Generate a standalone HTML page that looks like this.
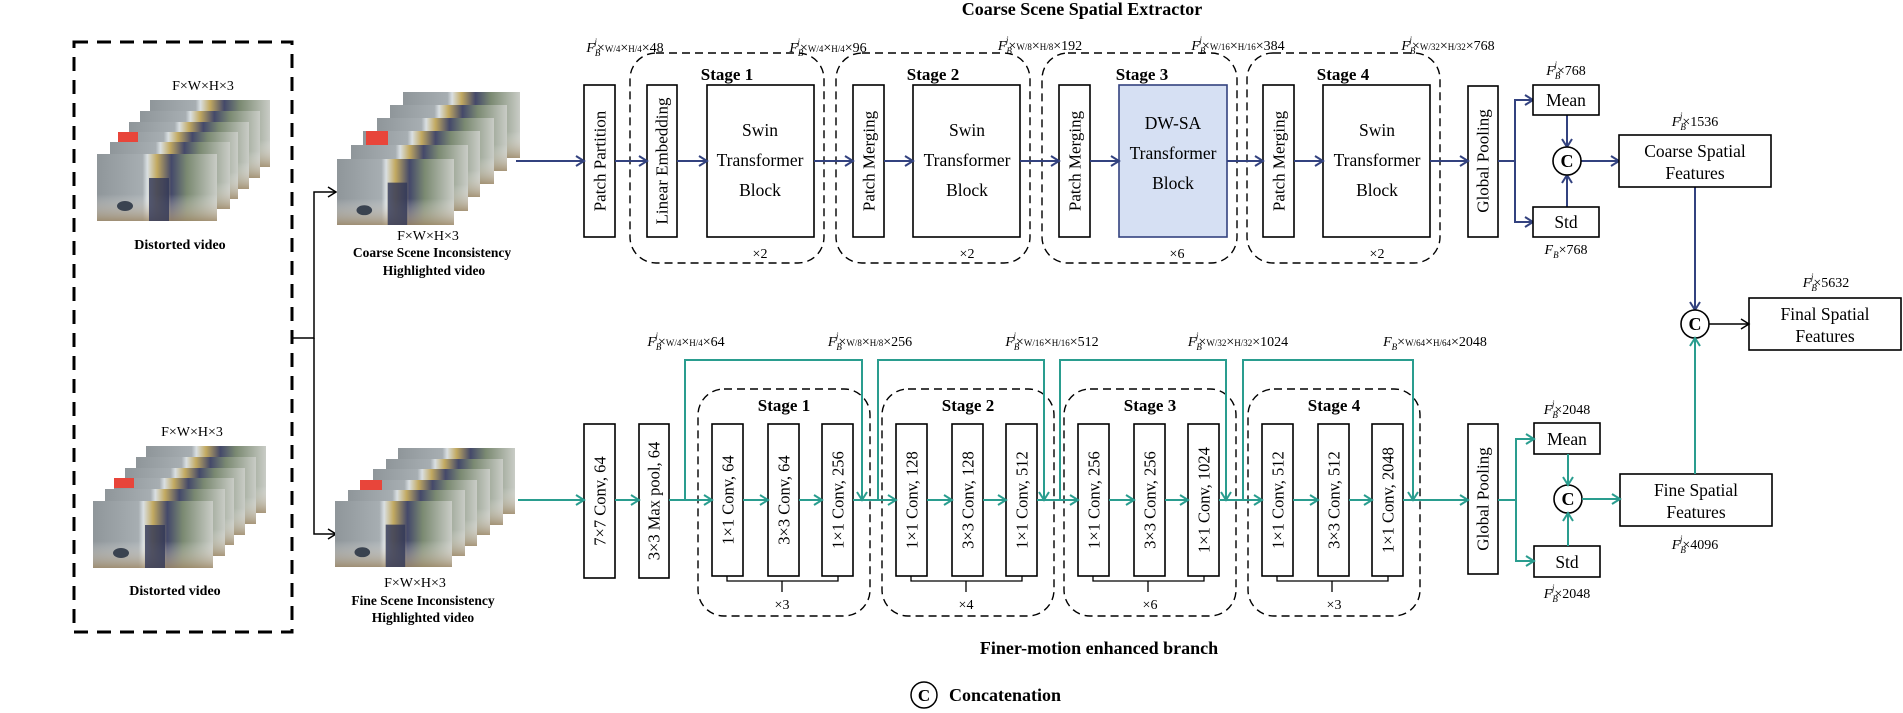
<!DOCTYPE html>
<html><head><meta charset="utf-8"><style>
html,body{margin:0;padding:0;background:#fff}
svg{display:block;font-family:"Liberation Serif","DejaVu Serif",serif}
svg text{font-family:"Liberation Serif","DejaVu Serif",serif !important;fill:#000}
.b{stroke:#000;stroke-width:1.6;fill:#fff}
.d{stroke:#000;stroke-width:1.4;fill:none;stroke-dasharray:8,5}
.n{stroke:#33427f;stroke-width:2;fill:none}
.t{stroke:#2a9d8f;stroke-width:2;fill:none}
.k{stroke:#000;stroke-width:1.5;fill:none}
.vt{font-size:17px}
.bt{font-size:17.5px}
.st{font-size:17px;font-weight:bold}
.dim{font-size:14px}
.sm{font-size:9px}
</style></head><body>
<svg width="1903" height="713" viewBox="0 0 1903 713" xmlns="http://www.w3.org/2000/svg" font-family="Liberation Serif, serif">
<defs>
<marker id="an" markerUnits="userSpaceOnUse" markerWidth="12" markerHeight="12" refX="9" refY="6" orient="auto"><path d="M1,1 L9,6 L1,11" fill="none" stroke="#33427f" stroke-width="2"/></marker>
<marker id="at" markerUnits="userSpaceOnUse" markerWidth="12" markerHeight="12" refX="9" refY="6" orient="auto"><path d="M1,1 L9,6 L1,11" fill="none" stroke="#2a9d8f" stroke-width="2"/></marker>
<marker id="ak" markerUnits="userSpaceOnUse" markerWidth="12" markerHeight="12" refX="9" refY="6" orient="auto"><path d="M1,1 L9,6 L1,11" fill="none" stroke="#000" stroke-width="1.5"/></marker>
<linearGradient id="g1" x1="0" y1="0" x2="1" y2="0">
<stop offset="0" stop-color="#8f969a"/><stop offset="0.38" stop-color="#a7aeb2"/><stop offset="0.42" stop-color="#d9dfe2"/><stop offset="0.5" stop-color="#c2a960"/><stop offset="0.62" stop-color="#44496a"/><stop offset="0.75" stop-color="#7b8a72"/><stop offset="1" stop-color="#c9ccc6"/>
</linearGradient>
<linearGradient id="g2" x1="0" y1="0" x2="0" y2="1">
<stop offset="0" stop-color="#fff" stop-opacity="0"/><stop offset="0.6" stop-color="#fff" stop-opacity="0"/><stop offset="1" stop-color="#a08a68" stop-opacity="0.8"/>
</linearGradient>
<symbol id="fr" viewBox="0 0 120 67" preserveAspectRatio="none">
<rect width="120" height="67" fill="url(#g1)"/>
<rect width="120" height="67" fill="url(#g2)"/>
<rect x="52" y="24" width="20" height="43" fill="#2f3657" opacity="0.8"/>
<ellipse cx="28" cy="52" rx="8" ry="5" fill="#3a4350"/>
</symbol>
</defs>

<text x="1082" y="15" text-anchor="middle" style="font-size:18px;font-weight:bold">Coarse Scene Spatial Extractor</text>
<text x="1099" y="654" text-anchor="middle" style="font-size:18px;font-weight:bold">Finer-motion enhanced branch</text>
<circle cx="924" cy="695" r="13" fill="none" stroke="#000" stroke-width="1.5"/>
<text x="924" y="701" text-anchor="middle" style="font-size:17px;font-weight:bold">C</text>
<text x="949" y="701" style="font-size:18px;font-weight:bold">Concatenation</text>

<rect x="74" y="42" width="218" height="590" fill="none" stroke="#000" stroke-width="3" stroke-dasharray="14,9"/>
<text x="203" y="90" text-anchor="middle" style="font-size:14px">F×W×H×3</text>
<use href="#fr" x="150" y="100" width="120" height="67"/>
<use href="#fr" x="140" y="111" width="120" height="67"/>
<use href="#fr" x="129" y="122" width="120" height="67"/>
<use href="#fr" x="118" y="132" width="120" height="67"/>
<use href="#fr" x="110" y="142" width="120" height="67"/>
<use href="#fr" x="97" y="154" width="120" height="67"/>
<rect x="118" y="132" width="20" height="10" fill="#e8453a"/>
<text x="180" y="249" text-anchor="middle" style="font-size:14px;font-weight:bold">Distorted video</text>

<text x="192" y="436" text-anchor="middle" style="font-size:14px">F×W×H×3</text>
<use href="#fr" x="146" y="446" width="120" height="67"/>
<use href="#fr" x="136" y="457" width="120" height="67"/>
<use href="#fr" x="125" y="468" width="120" height="67"/>
<use href="#fr" x="114" y="478" width="120" height="67"/>
<use href="#fr" x="105" y="489" width="120" height="67"/>
<use href="#fr" x="93" y="501" width="120" height="67"/>
<rect x="114" y="478" width="20" height="10" fill="#e8453a"/>
<text x="175" y="595" text-anchor="middle" style="font-size:14px;font-weight:bold">Distorted video</text>

<path class="k" d="M292,338 H314 V192 H336" marker-end="url(#ak)"/>
<path class="k" d="M314,338 V534 H336" marker-end="url(#ak)"/>

<use href="#fr" x="403" y="92" width="117" height="66"/>
<use href="#fr" x="390" y="105" width="117" height="66"/>
<use href="#fr" x="377" y="118" width="117" height="66"/>
<use href="#fr" x="363" y="131" width="117" height="66"/>
<use href="#fr" x="351" y="145" width="117" height="66"/>
<use href="#fr" x="337" y="159" width="117" height="66"/>
<rect x="366" y="131" width="22" height="14" fill="#e8453a"/>
<text x="428" y="240" text-anchor="middle" style="font-size:14px">F×W×H×3</text>
<text x="432" y="257" text-anchor="middle" style="font-size:13.5px;font-weight:bold">Coarse Scene Inconsistency</text>
<text x="434" y="275" text-anchor="middle" style="font-size:13.5px;font-weight:bold">Highlighted video</text>

<use href="#fr" x="398" y="448" width="117" height="66"/>
<use href="#fr" x="386" y="459" width="117" height="66"/>
<use href="#fr" x="373" y="469" width="117" height="66"/>
<use href="#fr" x="360" y="480" width="117" height="66"/>
<use href="#fr" x="348" y="490" width="117" height="66"/>
<use href="#fr" x="335" y="501" width="117" height="66"/>
<rect x="360" y="480" width="22" height="10" fill="#e8453a"/>
<text x="415" y="587" text-anchor="middle" style="font-size:14px">F×W×H×3</text>
<text x="423" y="605" text-anchor="middle" style="font-size:13.5px;font-weight:bold">Fine Scene Inconsistency</text>
<text x="423" y="622" text-anchor="middle" style="font-size:13.5px;font-weight:bold">Highlighted video</text>

<rect class="d" x="630" y="53" width="194" height="210" rx="26"/>
<rect class="d" x="836" y="53" width="194" height="210" rx="26"/>
<rect class="d" x="1042" y="53" width="195" height="210" rx="26"/>
<rect class="d" x="1247" y="53" width="193" height="210" rx="26"/>
<text class="st" x="727" y="80" text-anchor="middle">Stage 1</text>
<text class="st" x="933" y="80" text-anchor="middle">Stage 2</text>
<text class="st" x="1142" y="80" text-anchor="middle">Stage 3</text>
<text class="st" x="1343" y="80" text-anchor="middle">Stage 4</text>
<text x="760" y="258" text-anchor="middle" style="font-size:14px">×2</text>
<text x="967" y="258" text-anchor="middle" style="font-size:14px">×2</text>
<text x="1177" y="258" text-anchor="middle" style="font-size:14px">×6</text>
<text x="1377" y="258" text-anchor="middle" style="font-size:14px">×2</text>

<g class="b"><rect x="584" y="85" width="31" height="152"/><rect x="647" y="85" width="30" height="152"/><rect x="707" y="85" width="107" height="152"/>
<rect x="853" y="85" width="31" height="152"/><rect x="913" y="85" width="107" height="152"/>
<rect x="1059" y="85" width="31" height="152"/>
<rect x="1263" y="85" width="31" height="152"/><rect x="1323" y="85" width="107" height="152"/>
<rect x="1468" y="86" width="30" height="151"/></g>
<rect x="1119" y="85" width="108" height="152" fill="#d6e0f3" stroke="#33427f" stroke-width="1.6"/>

<g class="vt" text-anchor="middle" dominant-baseline="central">
<text transform="translate(600,161) rotate(-90)">Patch Partition</text>
<text transform="translate(662,161) rotate(-90)">Linear Embedding</text>
<text transform="translate(869,161) rotate(-90)">Patch Merging</text>
<text transform="translate(1075,161) rotate(-90)">Patch Merging</text>
<text transform="translate(1279,161) rotate(-90)">Patch Merging</text>
<text transform="translate(1483,161) rotate(-90)">Global Pooling</text>
</g>
<g class="bt" text-anchor="middle">
<text x="760" y="136">Swin</text><text x="760" y="166">Transformer</text><text x="760" y="196">Block</text>
<text x="967" y="136">Swin</text><text x="967" y="166">Transformer</text><text x="967" y="196">Block</text>
<text x="1173" y="129">DW-SA</text><text x="1173" y="159">Transformer</text><text x="1173" y="189">Block</text>
<text x="1377" y="136">Swin</text><text x="1377" y="166">Transformer</text><text x="1377" y="196">Block</text>
</g>
<g class="n" marker-end="url(#an)">
<path d="M516,161 H584"/><path d="M615,161 H647"/><path d="M677,161 H707"/><path d="M814,161 H853"/>
<path d="M884,161 H913"/><path d="M1020,161 H1059"/><path d="M1090,161 H1119"/><path d="M1227,161 H1263"/>
<path d="M1294,161 H1323"/><path d="M1430,161 H1468"/>
<path d="M1515,161 V100 H1533"/><path d="M1515,161 V222 H1533"/>
<path d="M1567,115 V147"/><path d="M1567,207 V175"/><path d="M1581,161 H1619"/>
<path d="M1695,187 V310"/>
</g>
<path class="n" d="M1498,161 H1515"/>

<g class="dim" text-anchor="middle">
<text x="625" y="52"><tspan font-style="italic">F</tspan><tspan class="sm" font-style="italic" dy="4">B</tspan><tspan class="sm" font-style="italic" dx="-6" dy="-11">j</tspan><tspan dy="7">×</tspan><tspan class="sm">W/4</tspan>×<tspan class="sm">H/4</tspan>×48</text>
<text x="828" y="52"><tspan font-style="italic">F</tspan><tspan class="sm" font-style="italic" dy="4">B</tspan><tspan class="sm" font-style="italic" dx="-6" dy="-11">j</tspan><tspan dy="7">×</tspan><tspan class="sm">W/4</tspan>×<tspan class="sm">H/4</tspan>×96</text>
<text x="1040" y="50"><tspan font-style="italic">F</tspan><tspan class="sm" font-style="italic" dy="4">B</tspan><tspan class="sm" font-style="italic" dx="-6" dy="-11">j</tspan><tspan dy="7">×</tspan><tspan class="sm">W/8</tspan>×<tspan class="sm">H/8</tspan>×192</text>
<text x="1238" y="50"><tspan font-style="italic">F</tspan><tspan class="sm" font-style="italic" dy="4">B</tspan><tspan class="sm" font-style="italic" dx="-6" dy="-11">j</tspan><tspan dy="7">×</tspan><tspan class="sm">W/16</tspan>×<tspan class="sm">H/16</tspan>×384</text>
<text x="1448" y="50"><tspan font-style="italic">F</tspan><tspan class="sm" font-style="italic" dy="4">B</tspan><tspan class="sm" font-style="italic" dx="-6" dy="-11">j</tspan><tspan dy="7">×</tspan><tspan class="sm">W/32</tspan>×<tspan class="sm">H/32</tspan>×768</text>
<text x="1566" y="75"><tspan font-style="italic">F</tspan><tspan class="sm" font-style="italic" dy="4">B</tspan><tspan class="sm" font-style="italic" dx="-6" dy="-11">j</tspan><tspan dy="7">×768</tspan></text>
<text x="1566" y="254"><tspan font-style="italic">F</tspan><tspan class="sm" font-style="italic" dy="4">B</tspan><tspan dy="-4">×768</tspan></text>
<text x="1695" y="126"><tspan font-style="italic">F</tspan><tspan class="sm" font-style="italic" dy="4">B</tspan><tspan class="sm" font-style="italic" dx="-6" dy="-11">j</tspan><tspan dy="7">×1536</tspan></text>
<text x="1826" y="287"><tspan font-style="italic">F</tspan><tspan class="sm" font-style="italic" dy="4">B</tspan><tspan class="sm" font-style="italic" dx="-6" dy="-11">j</tspan><tspan dy="7">×5632</tspan></text>
<text x="1695" y="549"><tspan font-style="italic">F</tspan><tspan class="sm" font-style="italic" dy="4">B</tspan><tspan class="sm" font-style="italic" dx="-6" dy="-11">j</tspan><tspan dy="7">×4096</tspan></text>
<text x="1567" y="414"><tspan font-style="italic">F</tspan><tspan class="sm" font-style="italic" dy="4">B</tspan><tspan class="sm" font-style="italic" dx="-6" dy="-11">j</tspan><tspan dy="7">×2048</tspan></text>
<text x="1567" y="598"><tspan font-style="italic">F</tspan><tspan class="sm" font-style="italic" dy="4">B</tspan><tspan class="sm" font-style="italic" dx="-6" dy="-11">j</tspan><tspan dy="7">×2048</tspan></text>
<text x="686" y="346"><tspan font-style="italic">F</tspan><tspan class="sm" font-style="italic" dy="4">B</tspan><tspan class="sm" font-style="italic" dx="-6" dy="-11">j</tspan><tspan dy="7">×</tspan><tspan class="sm">W/4</tspan>×<tspan class="sm">H/4</tspan>×64</text>
<text x="870" y="346"><tspan font-style="italic">F</tspan><tspan class="sm" font-style="italic" dy="4">B</tspan><tspan class="sm" font-style="italic" dx="-6" dy="-11">j</tspan><tspan dy="7">×</tspan><tspan class="sm">W/8</tspan>×<tspan class="sm">H/8</tspan>×256</text>
<text x="1052" y="346"><tspan font-style="italic">F</tspan><tspan class="sm" font-style="italic" dy="4">B</tspan><tspan class="sm" font-style="italic" dx="-6" dy="-11">j</tspan><tspan dy="7">×</tspan><tspan class="sm">W/16</tspan>×<tspan class="sm">H/16</tspan>×512</text>
<text x="1238" y="346"><tspan font-style="italic">F</tspan><tspan class="sm" font-style="italic" dy="4">B</tspan><tspan class="sm" font-style="italic" dx="-6" dy="-11">j</tspan><tspan dy="7">×</tspan><tspan class="sm">W/32</tspan>×<tspan class="sm">H/32</tspan>×1024</text>
<text x="1435" y="346"><tspan font-style="italic">F</tspan><tspan class="sm" font-style="italic" dy="4">B</tspan><tspan dy="-4">×</tspan><tspan class="sm">W/64</tspan>×<tspan class="sm">H/64</tspan>×2048</text>
</g>

<g class="b">
<rect x="1533" y="85" width="66" height="30"/><rect x="1533" y="207" width="66" height="30"/>
<rect x="1619" y="135" width="152" height="52"/>
<rect x="1749" y="298" width="152" height="52"/>
<rect x="1620" y="474" width="152" height="52"/>
<rect x="1534" y="423" width="66" height="31"/><rect x="1534" y="546" width="66" height="31"/>
<rect x="1468" y="424" width="30" height="150"/>
</g>
<g class="bt" text-anchor="middle">
<text x="1566" y="106">Mean</text><text x="1566" y="228">Std</text>
<text x="1567" y="445">Mean</text><text x="1567" y="568">Std</text>
<text x="1695" y="157">Coarse Spatial</text><text x="1695" y="179">Features</text>
<text x="1825" y="320">Final Spatial</text><text x="1825" y="342">Features</text>
<text x="1696" y="496">Fine Spatial</text><text x="1696" y="518">Features</text>
</g>
<text class="vt" transform="translate(1483,499) rotate(-90)" text-anchor="middle" dominant-baseline="central">Global Pooling</text>
<g fill="#fff" stroke="#000" stroke-width="1.6">
<circle cx="1567" cy="161" r="14"/><circle cx="1695" cy="324" r="14"/><circle cx="1568" cy="499" r="14"/>
</g>
<g text-anchor="middle" style="font-size:18px;font-weight:bold">
<text x="1567" y="167">C</text><text x="1695" y="330">C</text><text x="1568" y="505">C</text>
</g>
<path class="k" d="M1709,324 H1749" marker-end="url(#ak)"/>

<g class="d">
<rect x="698" y="389" width="172" height="227" rx="26"/>
<rect x="882" y="389" width="172" height="227" rx="26"/>
<rect x="1064" y="389" width="172" height="227" rx="26"/>
<rect x="1248" y="389" width="172" height="227" rx="26"/>
</g>
<text class="st" x="784" y="411" text-anchor="middle">Stage 1</text>
<text class="st" x="968" y="411" text-anchor="middle">Stage 2</text>
<text class="st" x="1150" y="411" text-anchor="middle">Stage 3</text>
<text class="st" x="1334" y="411" text-anchor="middle">Stage 4</text>

<g class="b">
<rect x="584" y="424" width="31" height="154"/><rect x="639" y="424" width="30" height="154"/>
<rect x="712" y="424" width="31" height="152"/><rect x="768" y="424" width="31" height="152"/><rect x="822" y="424" width="31" height="152"/>
<rect x="896" y="424" width="31" height="152"/><rect x="952" y="424" width="31" height="152"/><rect x="1006" y="424" width="31" height="152"/>
<rect x="1078" y="424" width="31" height="152"/><rect x="1134" y="424" width="31" height="152"/><rect x="1188" y="424" width="31" height="152"/>
<rect x="1262" y="424" width="31" height="152"/><rect x="1318" y="424" width="31" height="152"/><rect x="1372" y="424" width="31" height="152"/>
</g>
<g class="vt" text-anchor="middle" dominant-baseline="central" style="font-size:16.5px">
<text transform="translate(600,501) rotate(-90)">7×7 Conv, 64</text>
<text transform="translate(654,501) rotate(-90)">3×3 Max pool, 64</text>
<text transform="translate(728,500) rotate(-90)">1×1 Conv, 64</text>
<text transform="translate(784,500) rotate(-90)">3×3 Conv, 64</text>
<text transform="translate(838,500) rotate(-90)">1×1 Conv, 256</text>
<text transform="translate(912,500) rotate(-90)">1×1 Conv, 128</text>
<text transform="translate(968,500) rotate(-90)">3×3 Conv, 128</text>
<text transform="translate(1022,500) rotate(-90)">1×1 Conv, 512</text>
<text transform="translate(1094,500) rotate(-90)">1×1 Conv, 256</text>
<text transform="translate(1150,500) rotate(-90)">3×3 Conv, 256</text>
<text transform="translate(1204,500) rotate(-90)">1×1 Conv, 1024</text>
<text transform="translate(1278,500) rotate(-90)">1×1 Conv, 512</text>
<text transform="translate(1334,500) rotate(-90)">3×3 Conv, 512</text>
<text transform="translate(1388,500) rotate(-90)">1×1 Conv, 2048</text>
</g>
<g class="k" style="stroke-width:1.3">
<path d="M727,576 V581 H838 V576 M782,581 V592"/>
<path d="M911,576 V581 H1022 V576 M966,581 V592"/>
<path d="M1093,576 V581 H1204 V576 M1148,581 V592"/>
<path d="M1277,576 V581 H1388 V576 M1332,581 V592"/>
</g>
<g text-anchor="middle" style="font-size:14px">
<text x="782" y="609">×3</text><text x="966" y="609">×4</text><text x="1150" y="609">×6</text><text x="1334" y="609">×3</text>
</g>
<g class="t" marker-end="url(#at)">
<path d="M518,500 H584"/><path d="M615,500 H639"/><path d="M669,500 H712"/>
<path d="M743,500 H768"/><path d="M799,500 H822"/><path d="M853,500 H896"/>
<path d="M927,500 H952"/><path d="M983,500 H1006"/><path d="M1037,500 H1078"/>
<path d="M1109,500 H1134"/><path d="M1165,500 H1188"/><path d="M1219,500 H1262"/>
<path d="M1293,500 H1318"/><path d="M1349,500 H1372"/><path d="M1403,500 H1468"/>
<path d="M685,500 V360 H862 V500"/><path d="M878,500 V360 H1044 V500"/>
<path d="M1060,500 V360 H1226 V500"/><path d="M1243,500 V360 H1413 V500"/>
<path d="M1516,500 V439 H1534"/><path d="M1516,500 V561 H1534"/>
<path d="M1568,454 V485"/><path d="M1568,546 V513"/><path d="M1582,499 H1620"/>
<path d="M1695,474 V338"/>
</g>
<path class="t" d="M1498,500 H1516"/>
</svg>
</body></html>
